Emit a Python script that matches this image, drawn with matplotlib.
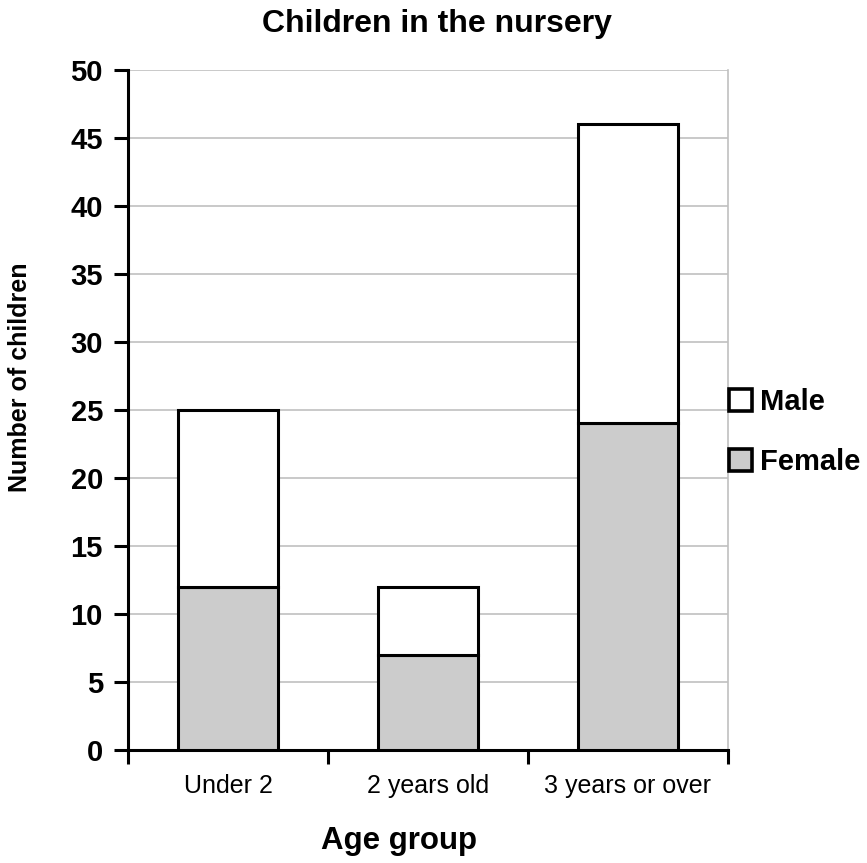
import numpy as np
import matplotlib.pyplot as plt
from matplotlib.patches import Patch

plt.rcParams['font.family'] = ['Liberation Sans', 'DejaVu Sans']

categories = ["Under 2", "2 years old", "3 years or over"]
female = [12, 7, 24]
male = [13, 5, 22]
y_ticks = [0, 5, 10, 15, 20, 25, 30, 35, 40, 45, 50]

fig = plt.figure(figsize=(8.67, 8.63), dpi=100)
ax = fig.add_axes([128 / 867, 1 - 750 / 863, 600 / 867, 680.5 / 863])

x = np.arange(len(categories))
ax.bar(x, female, width=0.5, color="#cccccc", edgecolor="black", linewidth=2.2, zorder=3)
ax.bar(x, male, width=0.5, bottom=female, color="white", edgecolor="black", linewidth=2.2, zorder=3)

ax.set_xlim(-0.5, len(categories) - 0.5)
ax.set_ylim(0, 50)
ax.set_yticks(y_ticks)
ax.set_yticklabels([str(v) for v in y_ticks], fontsize=21, fontweight="bold")
ax.set_xticks(x)
ax.set_xticklabels(categories, fontsize=18)
ax.set_xticks(np.arange(len(categories) + 1) - 0.5, minor=True)

ax.tick_params(axis="y", direction="out", length=10, width=2.2, pad=8)
ax.tick_params(axis="x", which="major", length=0, pad=17)
ax.tick_params(axis="x", which="minor", direction="out", length=10, width=2.2)

ax.yaxis.grid(True, color="#c0c0c0", linewidth=1.2, zorder=0)
ax.set_axisbelow(True)

ax.spines["top"].set_visible(False)
ax.spines["right"].set_color("#c0c0c0")
ax.spines["right"].set_linewidth(1.2)
ax.spines["left"].set_linewidth(2.2)
ax.spines["bottom"].set_linewidth(2.2)

fig.text(437 / 867, 1 - 24 / 863, "Children in the nursery", ha="center", va="center",
         fontsize=23, fontweight="bold")
fig.text(399 / 867, 1 - 841 / 863, "Age group", ha="center", va="center",
         fontsize=22.5, fontweight="bold")
fig.text(20 / 867, 1 - 377 / 863, "Number of children", ha="center", va="center",
         rotation=90, fontsize=18, fontweight="bold")

handles = [Patch(facecolor="white", edgecolor="black", linewidth=2.6, label="Male"),
           Patch(facecolor="#cccccc", edgecolor="black", linewidth=2.6, label="Female")]
fig.legend(handles=handles, loc="center left", bbox_to_anchor=(729 / 867, 1 - 432 / 863),
           frameon=False, borderpad=0, borderaxespad=0, handlelength=0.78, handleheight=0.78,
           handletextpad=0.28, labelspacing=1.1, prop={"size": 21, "weight": "bold"})

fig.savefig("out.png", dpi=100)
